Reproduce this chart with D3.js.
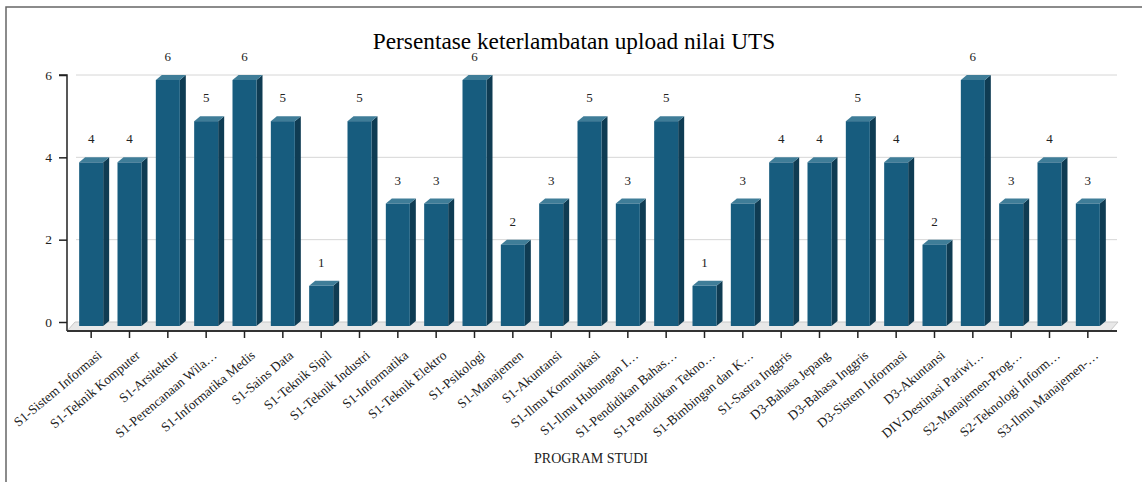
<!DOCTYPE html>
<html>
<head>
<meta charset="utf-8">
<script src="https://cdn.jsdelivr.net/npm/d3@7"></script>
<style>
  body { margin: 0; background: #fff; }
  svg { display: block; font-family: "Liberation Serif", "DejaVu Serif", serif; }
</style>
</head>
<body>
<svg id="chart" width="1142" height="482"></svg>
<script>
const programs = [
  "S1-Sistem Informasi", "S1-Teknik Komputer", "S1-Arsitektur", "S1-Perencanaan Wila…",
  "S1-Informatika Medis", "S1-Sains Data", "S1-Teknik Sipil", "S1-Teknik Industri",
  "S1-Informatika", "S1-Teknik Elektro", "S1-Psikologi", "S1-Manajemen",
  "S1-Akuntansi", "S1-Ilmu Komunikasi", "S1-Ilmu Hubungan I…", "S1-Pendidikan Bahas…",
  "S1-Pendidikan Tekno…", "S1-Bimbingan dan K…", "S1-Sastra Inggris", "D3-Bahasa Jepang",
  "D3-Bahasa Inggris", "D3-Sistem Informasi", "D3-Akuntansi", "DIV-Destinasi Pariwi…",
  "S2-Manajemen-Prog…", "S2-Teknologi Inform…", "S3-Ilmu Manajemen-…"
];
const lateCounts = [4, 4, 6, 5, 6, 5, 1, 5, 3, 3, 6, 2, 3, 5, 3, 5, 1, 3, 4, 4, 5, 4, 2, 6, 3, 4, 3];
const yTicks = [0, 2, 4, 6];

const svg = d3.select("#chart");
const data = programs.map((name, i) => ({name, value: lateCounts[i]}));

// 3d offsets
const depthX = 6, depthY = 5;
const floorX = 8, floorY = 9;
const barW = 24;

const x = d3.scaleBand().domain(programs).range([72, 1107]).padding(0);
const y = d3.scaleLinear().domain([0, 6]).range([322, 75]);
const cx = d => x(d) + x.bandwidth() / 2;

// frame
svg.append("path")
  .attr("d", "M6,482 L6,7 L1142,7")
  .attr("fill", "none").attr("stroke", "#666").attr("stroke-width", 1.5);

svg.append("text")
  .attr("x", 574).attr("y", 49)
  .attr("text-anchor", "middle")
  .attr("font-size", 23.3)
  .attr("fill", "#000")
  .text("Persentase keterlambatan upload nilai UTS");

// grid on back wall
svg.append("g")
  .selectAll("line")
  .data(yTicks.filter(t => t > 0))
  .join("line")
  .attr("x1", 76).attr("x2", 1117)
  .attr("y1", d => y(d)).attr("y2", d => y(d))
  .attr("stroke", "#d6d6d6");

// floor
const x0 = 67, x1 = 1110, yFront = y(0) + floorY;
svg.append("path")
  .attr("d", `M${x0},${yFront} L${x0 + floorX},${y(0)} L${x1 + floorX},${y(0)} L${x1},${yFront} Z`)
  .attr("fill", "#e8e8e8")
  .attr("stroke", "#c8c8c8");

// y axis
const yAxis = svg.append("g")
  .attr("transform", `translate(${x0},0)`)
  .call(d3.axisLeft(y).tickValues(yTicks).tickSize(8).tickPadding(7).tickFormat(d3.format("d")));
yAxis.select(".domain").attr("d", `M-8,${y(6)}H0V${yFront}`).attr("stroke", "#222").attr("stroke-width", 1.5);
yAxis.selectAll(".tick line").attr("stroke", "#222").attr("stroke-width", 1.5);
yAxis.selectAll("text").attr("font-size", 13.5).attr("font-family", "Liberation Serif").attr("fill", "#222");

// bars
const bars = svg.append("g").selectAll("g").data(data).join("g");
const front = d => ({l: cx(d.name) - barW / 2, r: cx(d.name) + barW / 2, t: y(d.value) + depthY, b: y(0) + 4});

bars.append("path")
  .attr("fill", "#0f3c53")
  .attr("d", d => {
    const f = front(d);
    return `M${f.r},${f.t} L${f.r + depthX},${f.t - depthY} L${f.r + depthX},${f.b - depthY} L${f.r},${f.b} Z`;
  });
bars.append("path")
  .attr("fill", "#3f7d98")
  .attr("d", d => {
    const f = front(d);
    return `M${f.l},${f.t} L${f.l + depthX},${f.t - depthY} L${f.r + depthX},${f.t - depthY} L${f.r},${f.t} Z`;
  });
bars.append("rect")
  .attr("fill", "#175c7e")
  .attr("x", d => front(d).l)
  .attr("y", d => front(d).t)
  .attr("width", barW)
  .attr("height", d => front(d).b - front(d).t);

bars.append("text")
  .attr("x", d => cx(d.name))
  .attr("y", d => y(d.value) - 14)
  .attr("text-anchor", "middle")
  .attr("font-size", 13)
  .attr("fill", "#222")
  .text(d => d.value);

// x axis
const xAxis = svg.append("g")
  .attr("transform", `translate(0,${yFront})`)
  .call(d3.axisBottom(x).tickSize(7).tickSizeOuter(0));
xAxis.select(".domain").attr("d", `M${x0},0H${1117}`).attr("stroke", "#333").attr("stroke-width", 2);
xAxis.selectAll(".tick line").attr("stroke", "#222").attr("stroke-width", 1.5);
xAxis.selectAll("text")
  .attr("font-size", 13.3)
  .attr("font-family", "Liberation Serif")
  .attr("fill", "#222")
  .attr("text-anchor", "end")
  .attr("dy", 0)
  .attr("transform", "translate(5,18) rotate(-40)");

svg.append("text")
  .attr("x", 591).attr("y", 463)
  .attr("text-anchor", "middle")
  .attr("font-size", 14)
  .attr("fill", "#222")
  .text("PROGRAM STUDI");
</script>
</body>
</html>
